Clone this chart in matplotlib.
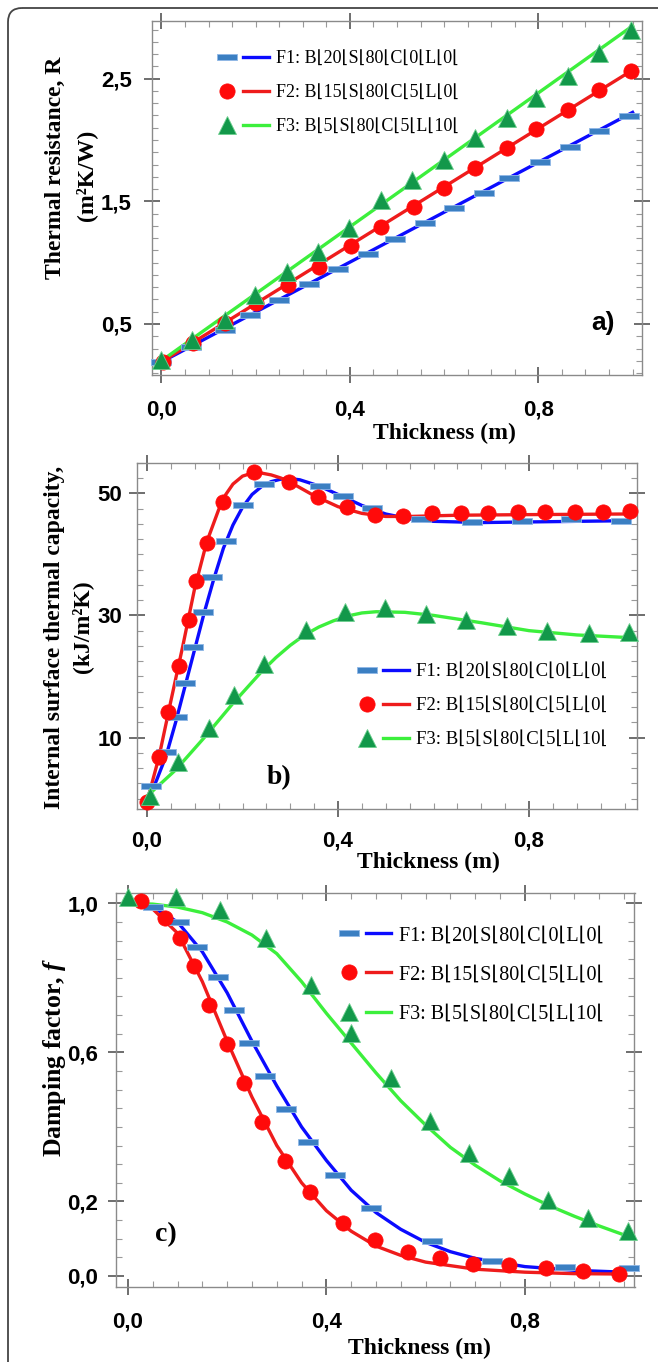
import matplotlib
matplotlib.use('Agg')
import matplotlib.pyplot as plt
import matplotlib.ticker as mticker
from matplotlib.path import Path
from matplotlib.patches import FancyBboxPatch
from matplotlib.legend_handler import HandlerTuple
from matplotlib.lines import Line2D
from matplotlib.font_manager import FontProperties

plt.rcParams['font.family'] = ['Liberation Sans Narrow', 'Liberation Sans', 'DejaVu Sans']
plt.rcParams['font.weight'] = 'bold'
plt.rcParams['mathtext.fontset'] = 'custom'
plt.rcParams['mathtext.rm'] = 'Liberation Serif:bold'
plt.rcParams['mathtext.bf'] = 'Liberation Serif:bold'
plt.rcParams['mathtext.it'] = 'Liberation Serif:italic:bold'
plt.rcParams['mathtext.bfit'] = 'Liberation Serif:italic:bold'

W, H = 658, 1362

# ---------- data: a) thermal resistance ----------
a_x1 = [0.0, 0.063, 0.134, 0.188, 0.250, 0.313, 0.375, 0.438, 0.496, 0.559, 0.621, 0.684, 0.738, 0.804, 0.867, 0.929, 0.992]
a_y1 = [0.19, 0.315, 0.451, 0.573, 0.696, 0.827, 0.947, 1.071, 1.196, 1.322, 1.444, 1.567, 1.694, 1.819, 1.944, 2.070, 2.198]
a_x2 = [0.004, 0.067, 0.134, 0.201, 0.268, 0.335, 0.402, 0.465, 0.536, 0.599, 0.666, 0.733, 0.795, 0.862, 0.929, 0.996]
a_y2 = [0.192, 0.342, 0.505, 0.669, 0.818, 0.967, 1.137, 1.294, 1.457, 1.612, 1.770, 1.933, 2.088, 2.246, 2.409, 2.559]
a_x3 = [0.0, 0.065, 0.134, 0.199, 0.266, 0.333, 0.398, 0.465, 0.532, 0.599, 0.666, 0.733, 0.795, 0.862, 0.929, 0.996]
a_y3 = [0.206, 0.369, 0.533, 0.737, 0.927, 1.090, 1.281, 1.512, 1.675, 1.839, 2.015, 2.178, 2.342, 2.519, 2.709, 2.900]
a_line_x = [0.0, 1.0]
a_line1 = [0.19, 2.225]
a_line2 = [0.19, 2.57]
a_line3 = [0.20, 2.93]

# ---------- data: b) internal surface thermal capacity ----------
b_x1 = [0.009, 0.040, 0.062, 0.079, 0.097, 0.117, 0.137, 0.165, 0.201, 0.244, 0.362, 0.410, 0.472, 0.574, 0.680, 0.786, 0.887, 0.993]
b_y1 = [2.0, 7.6, 13.3, 19.0, 24.9, 30.6, 36.3, 42.2, 48.0, 51.5, 51.2, 49.6, 47.65, 45.75, 45.3, 45.5, 45.85, 45.5]
b_x2 = [0.0, 0.025, 0.044, 0.066, 0.088, 0.103, 0.125, 0.159, 0.223, 0.297, 0.359, 0.419, 0.477, 0.537, 0.596, 0.658, 0.715, 0.777, 0.834, 0.896, 0.955, 1.012]
b_y2 = [-0.5, 6.8, 14.2, 21.7, 29.2, 35.6, 41.9, 48.5, 53.4, 51.9, 49.45, 47.7, 46.45, 46.3, 46.8, 46.8, 46.8, 47.0, 47.0, 47.0, 47.0, 47.1]
b_x3 = [0.007, 0.064, 0.130, 0.183, 0.244, 0.333, 0.415, 0.499, 0.584, 0.669, 0.753, 0.838, 0.925, 1.009]
b_y3 = [0.4, 6.0, 11.5, 16.9, 22.1, 27.6, 30.6, 31.15, 30.3, 29.2, 28.25, 27.4, 27.05, 27.2]
b_lx1 = [0.0, 0.02, 0.04, 0.06, 0.08, 0.10, 0.12, 0.14, 0.16, 0.18, 0.20, 0.22, 0.24, 0.26, 0.28, 0.30, 0.32, 0.36, 0.40, 0.45, 0.50, 0.55, 0.60, 0.70, 0.80, 0.90, 1.0]
b_ly1 = [-0.5, 3.0, 7.0, 12.5, 18.5, 24.5, 30.5, 36.0, 41.0, 44.8, 47.7, 49.8, 51.1, 51.9, 52.3, 52.4, 52.2, 51.2, 49.8, 48.0, 46.6, 45.8, 45.4, 45.2, 45.3, 45.4, 45.5]
b_lx2 = [0.0, 0.025, 0.05, 0.075, 0.10, 0.125, 0.15, 0.165, 0.18, 0.20, 0.22, 0.24, 0.26, 0.28, 0.30, 0.35, 0.40, 0.45, 0.50, 0.55, 0.65, 0.80, 1.0]
b_ly2 = [-0.5, 6.8, 16.0, 25.0, 34.5, 42.0, 47.3, 49.8, 51.5, 52.8, 53.3, 53.3, 53.0, 52.5, 51.8, 49.6, 47.8, 46.7, 46.2, 46.2, 46.4, 46.5, 46.6]
b_lx3 = [0.0, 0.06, 0.12, 0.18, 0.24, 0.27, 0.30, 0.33, 0.36, 0.39, 0.42, 0.45, 0.48, 0.54, 0.60, 0.70, 0.80, 0.90, 1.0]
b_ly3 = [0.4, 4.7, 10.0, 15.6, 20.8, 23.1, 25.1, 26.8, 28.1, 29.1, 29.9, 30.4, 30.6, 30.5, 30.0, 28.8, 27.5, 26.8, 26.4]

# ---------- data: c) damping factor ----------
c_x1 = [0.051, 0.102, 0.139, 0.181, 0.214, 0.244, 0.277, 0.319, 0.363, 0.417, 0.489, 0.613, 0.734, 0.881, 1.009]
c_y1 = [0.991, 0.951, 0.884, 0.801, 0.713, 0.625, 0.536, 0.448, 0.359, 0.270, 0.183, 0.094, 0.040, 0.024, 0.022]
c_x2 = [0.027, 0.075, 0.105, 0.134, 0.164, 0.200, 0.234, 0.270, 0.317, 0.368, 0.434, 0.498, 0.564, 0.630, 0.696, 0.769, 0.843, 0.917, 0.989]
c_y2 = [1.006, 0.960, 0.906, 0.832, 0.728, 0.623, 0.518, 0.414, 0.308, 0.226, 0.141, 0.096, 0.064, 0.049, 0.031, 0.029, 0.021, 0.013, 0.004]
c_x3 = [0.0, 0.096, 0.185, 0.278, 0.370, 0.449, 0.530, 0.609, 0.688, 0.769, 0.847, 0.928, 1.007]
c_y3 = [1.018, 1.018, 0.982, 0.906, 0.781, 0.652, 0.531, 0.415, 0.330, 0.268, 0.205, 0.156, 0.121]
c_lx1 = [0.0, 0.05, 0.10, 0.15, 0.20, 0.25, 0.30, 0.35, 0.40, 0.45, 0.50, 0.55, 0.60, 0.65, 0.70, 0.80, 0.90, 1.0]
c_ly1 = [1.0, 0.99, 0.95, 0.87, 0.76, 0.63, 0.51, 0.40, 0.31, 0.23, 0.17, 0.125, 0.09, 0.065, 0.047, 0.025, 0.015, 0.01]
c_lx2 = [0.0, 0.05, 0.10, 0.15, 0.20, 0.25, 0.30, 0.35, 0.40, 0.45, 0.50, 0.55, 0.60, 0.70, 0.80, 0.90, 1.0]
c_ly2 = [1.0, 0.985, 0.92, 0.79, 0.63, 0.48, 0.35, 0.25, 0.175, 0.12, 0.08, 0.055, 0.037, 0.018, 0.01, 0.006, 0.005]
c_lx3 = [0.0, 0.05, 0.10, 0.15, 0.20, 0.25, 0.30, 0.35, 0.40, 0.45, 0.50, 0.55, 0.60, 0.65, 0.70, 0.75, 0.80, 0.85, 0.90, 0.95, 1.0]
c_ly3 = [1.0, 0.998, 0.99, 0.975, 0.95, 0.915, 0.865, 0.79, 0.705, 0.625, 0.545, 0.47, 0.405, 0.345, 0.297, 0.255, 0.22, 0.188, 0.16, 0.134, 0.11]

labels = ['F1: B⌊20⌊S⌊80⌊C⌊0⌊L⌊0⌊',
          'F2: B⌊15⌊S⌊80⌊C⌊5⌊L⌊0⌊',
          'F3: B⌊5⌊S⌊80⌊C⌊5⌊L⌊10⌊']

# styles
DASH = Path([(-1, -0.27), (1, -0.27), (1, 0.27), (-1, 0.27), (-1, -0.27)],
            [Path.MOVETO, Path.LINETO, Path.LINETO, Path.LINETO, Path.CLOSEPOLY])
LINE_COLORS = ['#0b0bff', '#ee1c1c', '#3cef3c']
MK = [dict(marker=DASH, ms=15, mfc='#3b7fc2', mec='#8fb8e6', mew=0.6),
      dict(marker='o', ms=11, mfc='#ff0a0a', mec='#ff0a0a', mew=0.5),
      dict(marker='^', ms=13, mfc='#12984a', mec='#6ccf8e', mew=0.6)]
SERIF = ['Liberation Serif', 'DejaVu Serif']

fig = plt.figure(figsize=(W / 100, H / 100), dpi=100)


def px_axes(l, t, r, b):
    return fig.add_axes([l / W, 1 - b / H, (r - l) / W, (b - t) / H])


def comma(v, pos):
    return f'{v:.1f}'.replace('.', ',')


def style(ax, xlim, ylim, yticks, ymin, xmin, fmt, xpad, ypad):
    ax.set_xlim(*xlim)
    ax.set_ylim(*ylim)
    ax.set_xticks([0.0, 0.4, 0.8])
    ax.set_yticks(yticks)
    ax.xaxis.set_minor_locator(mticker.MultipleLocator(xmin))
    ax.yaxis.set_minor_locator(mticker.MultipleLocator(ymin))
    ax.xaxis.set_major_formatter(mticker.FuncFormatter(comma))
    ax.yaxis.set_major_formatter(fmt)
    ax.tick_params(which='major', direction='inout', length=11, width=1.2, color='#555555',
                   labelsize=16, top=True, right=True)
    ax.tick_params(which='minor', direction='in', length=4, width=0.8, color='#999999',
                   top=True, right=True)
    ax.tick_params(axis='x', which='major', pad=xpad)
    ax.tick_params(axis='y', which='major', pad=ypad)
    for s in ax.spines.values():
        s.set_color('#8a8a8a')
        s.set_linewidth(1.0)
    ax.set_facecolor('none')


def draw(ax, lines, marks):
    for (lx, ly), (mx, my), c, mk in zip(lines, marks, LINE_COLORS, MK):
        ax.plot(lx, ly, color=c, lw=2.4, zorder=2)
        ax.plot(mx, my, ls='none', zorder=3, clip_on=False, **mk)


def legend(ax, anchor, spacing, size):
    handles = []
    for c, mk in zip(LINE_COLORS, MK):
        handles.append((Line2D([], [], ls='none', **mk), Line2D([], [], color=c, lw=2.4)))
    font = FontProperties(family=['Liberation Serif', 'DejaVu Sans'], size=size, weight='normal')
    ax.legend(handles, labels, handler_map={tuple: HandlerTuple(ndivide=None, pad=0.2)},
              loc='upper left', bbox_to_anchor=anchor, frameon=False, prop=font,
              handlelength=3.3 * 12 / size, handletextpad=0.4, labelspacing=spacing,
              borderpad=0, borderaxespad=0)


# ---------- panel a ----------
ax1 = px_axes(152, 21, 642, 375)
style(ax1, (-0.02, 1.02), (0.084, 2.97), [0.5, 1.5, 2.5], 0.1, 0.05,
      mticker.FuncFormatter(comma), 12, 9)
draw(ax1, [(a_line_x, a_line1), (a_line_x, a_line2), (a_line_x, a_line3)],
     [(a_x1, a_y1), (a_x2, a_y2), (a_x3, a_y3)])
legend(ax1, ((214 - 152) / 490, 1 - (50 - 21) / 354), 0.95, 13)

# ---------- panel b ----------
ax2 = px_axes(136.5, 462.7, 636.5, 809)
style(ax2, (-0.022, 1.025), (-1.7, 55.0), [10, 30, 50], 2.5, 0.05,
      mticker.FuncFormatter(lambda v, p: f'{v:.0f}'), 10, 5)
draw(ax2, [(b_lx1, b_ly1), (b_lx2, b_ly2), (b_lx3, b_ly3)],
     [(b_x1, b_y1), (b_x2, b_y2), (b_x3, b_y3)])
legend(ax2, ((354 - 136.5) / 500, 1 - (663 - 462.7) / 346.3), 0.9, 13.5)

# ---------- panel c ----------
ax3 = px_axes(115.5, 893.3, 634.5, 1286.7)
style(ax3, (-0.025, 1.021), (-0.029, 1.027), [0.0, 0.2, 0.6, 1.0], 0.05, 0.05,
      mticker.FuncFormatter(comma), 12, 7)
draw(ax3, [(c_lx1, c_ly1), (c_lx2, c_ly2), (c_lx3, c_ly3)],
     [(c_x1, c_y1), (c_x2, c_y2), (c_x3, c_y3)])
legend(ax3, ((336 - 115.5) / 519, 1 - (926 - 893.3) / 393.4), 1.0, 14.5)

# ---------- texts ----------
def ftext(x, y, s, **kw):
    fig.text(x / W, 1 - y / H, s, **kw)


lab = dict(family=SERIF, fontweight='bold', fontsize=17, ha='center', va='center')
ftext(55, 168, 'Thermal resistance, R', rotation=90, **lab)
ftext(86, 175, '(m²K/W)', rotation=90, **lab)
ftext(444, 433, 'Thickness (m)', **lab)

ftext(55, 637, 'Internal surface thermal capacity,', rotation=90, **lab)
ftext(82, 627, '(kJ/m²K)', rotation=90, **lab)
ftext(428, 862, 'Thickness (m)', **lab)

ftext(55, 1057, r'Damping factor, $\mathbfit{f}$', rotation=90,
      **{**lab, 'fontsize': 18.5})
ftext(419, 1348, 'Thickness (m)', **lab)

ftext(603, 323, 'a)', fontsize=19, fontweight='bold', ha='center', va='center')
ftext(279, 778, 'b)', family=SERIF, fontsize=20, fontweight='bold', ha='center', va='center')
ftext(166, 1235, 'c)', family=SERIF, fontsize=20, fontweight='bold', ha='center', va='center')

# rounded border around the figure
bg = fig.add_axes([0, 0, 1, 1], zorder=-5)
bg.set_xlim(0, W)
bg.set_ylim(H, 0)
bg.axis('off')
bg.add_patch(FancyBboxPatch((8, 8), W + 20, H + 20, boxstyle='round,pad=0,rounding_size=14',
                            fc='none', ec='#444444', lw=1.3))

fig.savefig('out.png', dpi=100)
